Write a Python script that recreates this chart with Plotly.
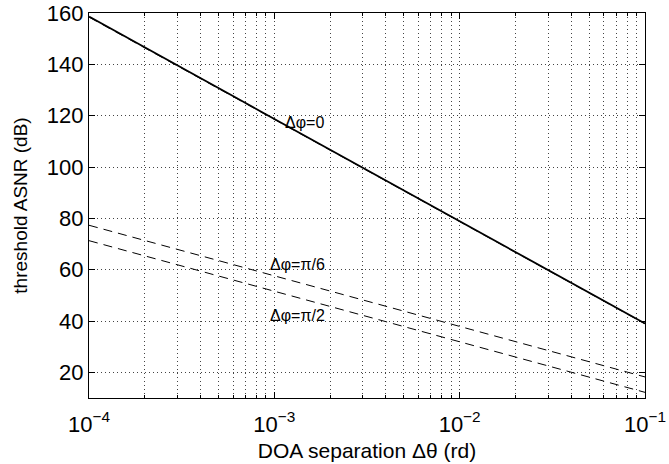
import math
import plotly.graph_objects as go

# DOA separation (rad) and threshold ASNR curves (dB)
doa_sep = [1e-4, 1e-3, 1e-2, 1e-1]
asnr_phi0 = [158.6, 118.7, 78.8, 39.0]
asnr_phi0_approx = [158.4, 118.6, 78.7, 38.9]
asnr_phi_pi6 = [77.3, 57.6, 37.9, 18.2]
asnr_phi_pi2 = [71.3, 51.6, 31.9, 12.2]

x_ticks = [1e-4, 1e-3, 1e-2, 1e-1]
x_ticktext = ["10<sup>\u22124</sup>", "10<sup>\u22123</sup>", "10<sup>\u22122</sup>", "10<sup>\u22121</sup>"]
x_minor = [m * d for d in [1e-4, 1e-3, 1e-2] for m in range(2, 10)]
y_ticks = [20, 40, 60, 80, 100, 120, 140, 160]

curve_labels = ["\u0394\u03c6=0", "\u0394\u03c6=\u03c0/6", "\u0394\u03c6=\u03c0/2"]
label_x = [1.46e-3, 1.34e-3, 1.34e-3]
label_y = [117.5, 62.2, 42.3]

font = "Liberation Sans, Arial, Helvetica, sans-serif"
dash = "9px,6px"

fig = go.Figure()
fig.add_trace(go.Scatter(x=doa_sep, y=asnr_phi0, mode="lines",
                         line=dict(color="black", width=1.8)))
for ys in (asnr_phi0_approx, asnr_phi_pi6, asnr_phi_pi2):
    fig.add_trace(go.Scatter(x=doa_sep, y=ys, mode="lines",
                             line=dict(color="black", width=1, dash=dash)))

# annotation x on a log axis is given as log10 of the value
for t, xv, yv in zip(curve_labels, label_x, label_y):
    fig.add_annotation(x=math.log10(xv), y=yv, xref="x", yref="y", text=t,
                       showarrow=False, font=dict(family=font, size=16, color="black"))

grid = dict(showgrid=True, gridcolor="#444444", gridwidth=1, griddash="1px,3px")
fig.update_xaxes(type="log", range=[-4, -1], tickvals=x_ticks, ticktext=x_ticktext,
                 ticks="inside", ticklen=6, tickcolor="black", mirror="ticks",
                 showline=True, linecolor="black", linewidth=1.3,
                 ticklabelstandoff=6,
                 minor=dict(tickvals=x_minor, ticks="inside", ticklen=3, tickcolor="black",
                            showgrid=True, gridcolor="#444444", gridwidth=1,
                            griddash="1px,3px"),
                 tickfont=dict(family=font, size=22, color="black"),
                 title=dict(text="DOA separation \u0394\u03b8 (rd)", standoff=7,
                            font=dict(family=font, size=21, color="black")),
                 zeroline=False, **grid)
fig.update_yaxes(range=[10, 160], tickvals=y_ticks,
                 ticks="inside", ticklen=6, tickcolor="black", mirror="ticks",
                 showline=True, linecolor="black", linewidth=1.3,
                 tickfont=dict(family=font, size=22, color="black"),
                 title=dict(text="threshold ASNR (dB)", standoff=14,
                            font=dict(family=font, size=19, color="black")),
                 zeroline=False, **grid)

fig.update_layout(width=669, height=464, showlegend=False,
                  plot_bgcolor="white", paper_bgcolor="white",
                  margin=dict(l=89, r=24, t=13, b=66, autoexpand=False))
fig.write_html("out.html")
